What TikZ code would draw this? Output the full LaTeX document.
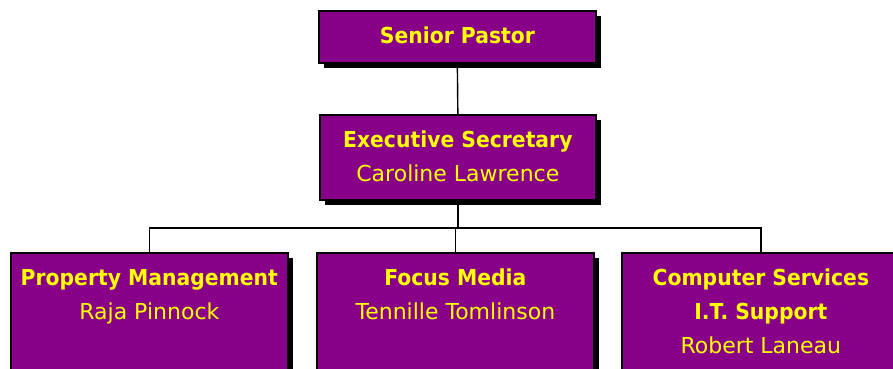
\documentclass[tikz,border=0pt]{standalone}
\usepackage{fontspec}
\setmainfont{DejaVu Sans}[BoldFeatures={FakeStretch=0.925}]
\usetikzlibrary{shadows}
\definecolor{boxpurple}{HTML}{880088}
\definecolor{boxyellow}{HTML}{FFFF00}
\newcommand\orgtext[3]{\parbox[b][#2pt][t]{#1pt}{\centering\fontsize{22}{34}\selectfont\rule{0pt}{33pt}#3}}
\tikzset{
  orgbox/.style={draw=black, line width=1.7pt, fill=boxpurple, text=boxyellow,
    inner sep=0pt, anchor=north west,
    drop shadow={shadow xshift=5pt, shadow yshift=-5pt, fill=black, opacity=1}},
  link/.style={draw=black, line width=1.4pt}
}
\begin{document}
\begin{tikzpicture}[x=1pt,y=-1pt]
\useasboundingbox (0,0) rectangle (893,368);
\node[orgbox] (senior) at (318,10) {\orgtext{277}{52}{\textbf{Senior Pastor}}};
\node[orgbox] (exec) at (319,114) {\orgtext{276}{85}{\textbf{Executive Secretary}\\Caroline Lawrence}};
\node[orgbox] (prop) at (10,252) {\orgtext{277}{130}{\textbf{Property Management}\\Raja Pinnock}};
\node[orgbox] (media) at (316,252) {\orgtext{277}{130}{\textbf{Focus Media}\\Tennille Tomlinson}};
\node[orgbox] (comp) at (621,252) {\orgtext{278}{130}{\textbf{Computer Services}\\\textbf{I.T. Support}\\Robert Laneau}};
\coordinate (bus) at (456,228);
\draw[link] (senior.south) -- (exec.north);
\draw[link] (exec.south) -- (exec.south |- bus);
\draw[link] (prop.north) |- (bus) -| (comp.north);
\draw[link] (media.north) -- (media.north |- bus);
\end{tikzpicture}
\end{document}
